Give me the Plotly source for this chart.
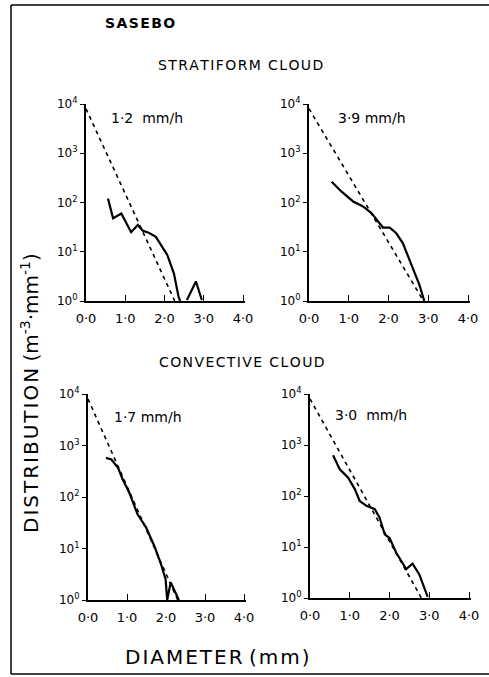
import plotly.graph_objects as go

# ---------------- data ----------------
x_tick_vals = [0, 1, 2, 3, 4]
x_tick_text = ["0·0", "1·0", "2·0", "3·0", "4·0"]
y_tick_vals = [1, 10, 100, 1000, 10000]
y_tick_text = ["10<sup>0</sup>", "10<sup>1</sup>", "10<sup>2</sup>", "10<sup>3</sup>", "10<sup>4</sup>"]

rain_rates = ["1·2  mm/h", "3·9 mm/h", "1·7 mm/h", "3·0  mm/h"]

# Stratiform 1.2 mm/h (observed, two pieces separated by a gap)
strat12_d = [0.56, 0.69, 0.90, 1.15, 1.32, 1.44, 1.61, 1.78, 2.07, 2.24, 2.36, 2.40, None, 2.57, 2.80, 2.95]
strat12_n = [120, 48, 60, 25, 35, 27, 24, 20, 8.6, 3.6, 1.2, 1.0, None, 1.05, 2.5, 1.05]
# Stratiform 3.9 mm/h
strat39_d = [0.57, 0.82, 1.11, 1.36, 1.57, 1.73, 1.86, 2.03, 2.19, 2.36, 2.61, 2.78, 2.90]
strat39_n = [263, 166, 105, 83, 61, 42, 31, 31, 24, 15, 4.9, 2.1, 1.0]
# Convective 1.7 mm/h
conv17_d = [0.46, 0.60, 0.77, 0.89, 1.06, 1.27, 1.49, 1.70, 1.87, 1.99, 2.03, 2.12, 2.33]
conv17_n = [575, 535, 370, 219, 121, 46, 25.6, 11.2, 5.0, 2.5, 1.0, 2.2, 1.0]
# Convective 3.0 mm/h
conv30_d = [0.58, 0.75, 0.96, 1.13, 1.25, 1.42, 1.63, 1.75, 1.88, 2.00, 2.17, 2.42, 2.58, 2.75, 2.96]
conv30_n = [630, 333, 229, 135, 80, 64, 55, 37.5, 17.7, 15, 7.7, 3.7, 4.7, 2.9, 1.05]

# Marshall-Palmer reference lines (dashed), end points
mp12_d = [0.0, 2.26]
mp12_n = [8000, 1]
mp39_d = [0.0, 2.88]
mp39_n = [8000, 1]
mp17_d = [0.0, 2.30]
mp17_n = [8000, 1]
mp30_d = [0.0, 2.80]
mp30_n = [8000, 1]

observed = [(strat12_d, strat12_n), (strat39_d, strat39_n), (conv17_d, conv17_n), (conv30_d, conv30_n)]
reference = [(mp12_d, mp12_n), (mp39_d, mp39_n), (mp17_d, mp17_n), (mp30_d, mp30_n)]

# ---------------- layout ----------------
W, H = 489, 677
FONT = "DejaVu Sans"
HS = "\u200a"  # hair space for letter spacing


def spaced(s):
    return HS.join(list(s))


def px(x):
    return x / W


def py(y):
    return 1 - y / H


# panel pixel boxes: (left, right, top, bottom)
boxes = [(86, 245, 104, 301), (309, 470, 104, 301), (88, 246, 394, 600), (310, 471, 394, 598)]

fig = go.Figure()
for i, ((od, on), (rd, rn)) in enumerate(zip(observed, reference)):
    k = "" if i == 0 else str(i + 1)
    fig.add_trace(go.Scatter(x=rd, y=rn, mode="lines", xaxis="x" + k, yaxis="y" + k,
                             line=dict(color="black", width=1.6, dash="4px,4px"),
                             showlegend=False, hoverinfo="skip"))
    fig.add_trace(go.Scatter(x=od, y=on, mode="lines", xaxis="x" + k, yaxis="y" + k,
                             line=dict(color="black", width=2.2), connectgaps=False,
                             showlegend=False, hoverinfo="skip"))

layout = dict(width=W, height=H, margin=dict(l=0, r=0, t=0, b=0, autoexpand=False),
              paper_bgcolor="white", plot_bgcolor="white", showlegend=False,
              font=dict(family=FONT, color="black"))

for i, (l, r, t, b) in enumerate(boxes):
    k = "" if i == 0 else str(i + 1)
    layout["xaxis" + k] = dict(domain=[px(l), px(r)], range=[0, 4.05], anchor="y" + k,
                               tickmode="array", tickvals=x_tick_vals, ticktext=x_tick_text,
                               ticks="inside", ticklen=6, tickwidth=1.3, tickcolor="black",
                               showline=True, linecolor="black", linewidth=1.6,
                               showgrid=False, zeroline=False, ticklabelstandoff=5,
                               tickfont=dict(size=13, family=FONT))
    layout["yaxis" + k] = dict(domain=[py(b), py(t)], range=[0, 4], type="log", anchor="x" + k,
                               tickmode="array", tickvals=y_tick_vals, ticktext=y_tick_text,
                               ticks="outside", ticklen=4, tickwidth=1.3, tickcolor="black",
                               showline=True, linecolor="black", linewidth=2.2,
                               showgrid=False, zeroline=False,
                               tickfont=dict(size=12, family=FONT))

annotations = []


def txt(text, x, y, size, angle=0, bold=False):
    annotations.append(dict(text=("<b>%s</b>" % text) if bold else text,
                            x=px(x), y=py(y), xref="paper", yref="paper",
                            showarrow=False, textangle=angle,
                            font=dict(size=size, family=FONT, color="black"),
                            xanchor="center", yanchor="middle"))


txt(spaced("SASEBO"), 140, 23, 14, bold=True)
txt(spaced("STRATIFORM CLOUD"), 240, 65, 14)
txt(spaced("CONVECTIVE CLOUD"), 242, 362, 14)
txt(rain_rates[0], 147, 118, 14)
txt(rain_rates[1], 372, 118, 14)
txt(rain_rates[2], 148, 417, 14)
txt(rain_rates[3], 371, 415, 14)
txt(spaced("DIAMETER") + " " + spaced("(mm)"), 217, 657, 20)
txt(spaced("DISTRIBUTION") + " (m<sup>-3</sup>·mm<sup>-1</sup>)", 30, 393, 20, angle=-90)
layout["annotations"] = annotations

layout["shapes"] = [
    dict(type="line", xref="paper", yref="paper", x0=px(11), x1=1.0, y0=py(5), y1=py(5),
         line=dict(color="black", width=1.5)),
    dict(type="line", xref="paper", yref="paper", x0=px(11), x1=px(11), y0=py(5), y1=py(674),
         line=dict(color="black", width=1.5)),
    dict(type="line", xref="paper", yref="paper", x0=px(11), x1=1.0, y0=py(674), y1=py(674),
         line=dict(color="black", width=1.5)),
]

fig.update_layout(**layout)
fig.write_html("out.html")
